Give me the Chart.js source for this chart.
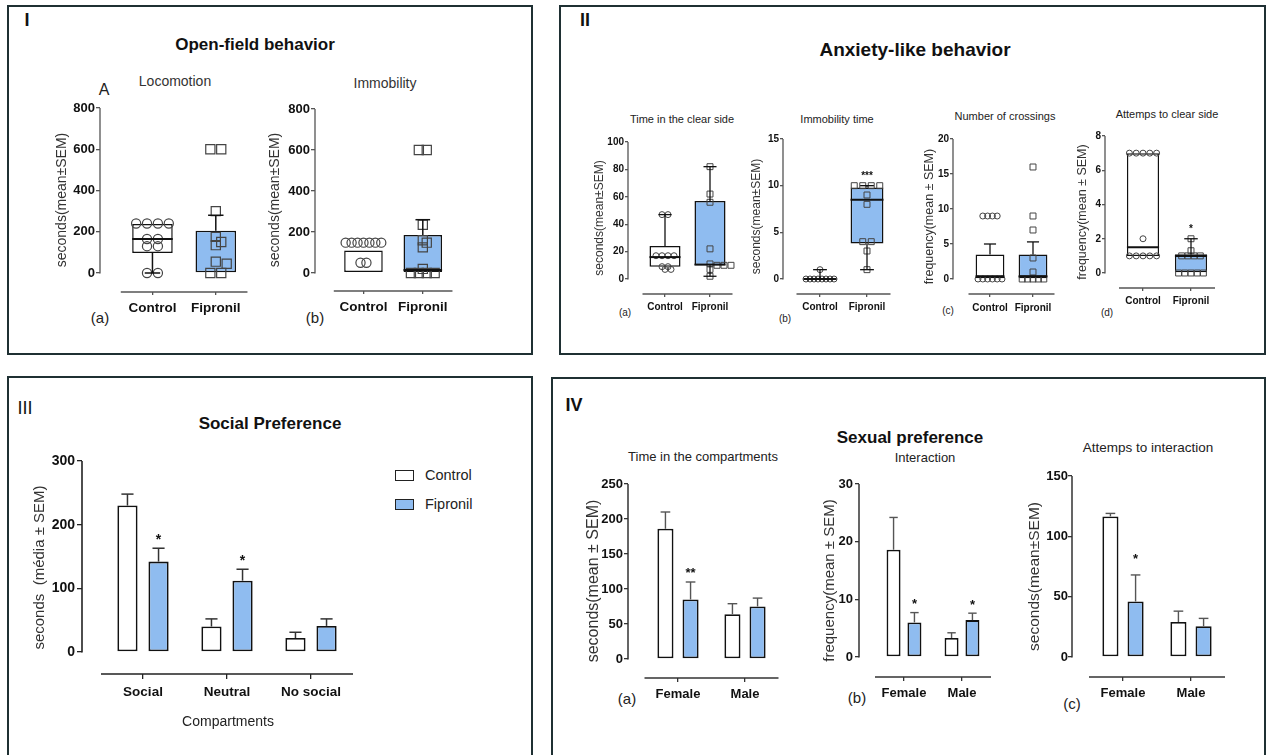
<!DOCTYPE html>
<html>
<head>
<meta charset="utf-8">
<script src="https://cdn.jsdelivr.net/npm/chart.js@4.4.1/dist/chart.umd.min.js"></script>
<style>
  body { margin: 0; background: #fff; font-family: "Liberation Sans", Arial, sans-serif; }
  #page { position: relative; width: 1271px; height: 755px; overflow: hidden; }
  .panel { position: absolute; border: 2px solid #1f3033; box-sizing: border-box; }
  .t { position: absolute; white-space: nowrap; transform: translate(-50%, -50%); line-height: 1; color: #111; }
  .sw { position: absolute; box-sizing: border-box; border: 1.6px solid #222; }
</style>
</head>
<body>
<div id="page"></div>
<script>
// ---------- data ----------
const groupNames = ['Control', 'Fipronil'];

// I. open-field: box = [lower whisker, q1, median, q3, upper whisker]
const locomotionTicks = [0, 200, 400, 600, 800];
const locomotionControl = [240, 240, 240, 240, 165, 165, 130, 130, 0, 0];
const locomotionFipronil = [600, 600, 300, 175, 150, 135, 55, 45, 0, 0];
const locomotionBox = [[0, 97, 165, 238, 238], [0, 0, null, 205, 280]];

const immobilityTicks = [0, 200, 400, 600, 800];
const immobilityControl = [148, 148, 148, 148, 148, 148, 148, 50, 50];
const immobilityFipronil = [600, 600, 235, 160, 148, 125, 20, 0, 0, 0, 0];
const immobilityBox = [[5, 5, null, 110, 110], [5, 5, 15, 185, 260]];

// II. anxiety-like
const clearSideTicks = [0, 20, 40, 60, 80, 100];
const clearSideControl = [47, 47, 17, 17, 17, 17, 9, 9, 7, 7];
const clearSideFipronil = [82, 62, 56, 22, 11, 10, 10, 10, 7, 2];
const clearSideBox = [[9, 9, 16, 24, 47], [2, 10, 10.5, 57, 82]];

const immobTimeTicks = [0, 5, 10, 15];
const immobTimeControl = [1, 0, 0, 0, 0, 0, 0, 0, 0];
const immobTimeFipronil = [10, 10, 10, 10, 9, 8, 4, 4, 3, 1];
const immobTimeBox = [[0, 0, 0, 0, 1], [1, 3.8, 8.5, 9.8, 10]];
const immobTimeStars = ['', '***'];

const crossingsTicks = [0, 5, 10, 15, 20];
const crossingsControl = [9, 9, 9, 9, 0, 0, 0, 0, 0, 0];
const crossingsFipronil = [16, 9, 7, 3, 1, 0, 0, 0, 0, 0];
const crossingsBox = [[0, 0, 0.4, 3.5, 5.0], [0, 0, 0.4, 3.5, 5.3]];

const clearAttemptsTicks = [0, 2, 4, 6, 8];
const clearAttemptsControl = [7, 7, 7, 7, 7, 2, 1, 1, 1, 1, 1];
const clearAttemptsFipronil = [2, 1.3, 1, 1, 1, 1, 0, 0, 0, 0, 0];
const clearAttemptsBox = [[1, 1, 1.5, 7, 7], [0, 0, 1.0, 1.1, 2.0]];
const clearAttemptsStars = ['', '*'];

// III. social preference (mean, SEM)
const socialCategories = ['Social', 'Neutral', 'No social'];
const socialTicks = [0, 100, 200, 300];
const socialControl = [230, 40, 22];
const socialControlSem = [18, 12, 9];
const socialFipronil = [142, 112, 41];
const socialFipronilSem = [21, 18, 11];
const socialStars = ['*', '*', ''];

// IV. sexual preference (mean, SEM)
const sexCategories = ['Female', 'Male'];
const compTicks = [0, 50, 100, 150, 200, 250];
const compControl = [186, 64];
const compControlSem = [24, 15];
const compFipronil = [85, 75];
const compFipronilSem = [25, 12];
const compStars = ['**', ''];

const interTicks = [0, 10, 20, 30];
const interControl = [18.6, 3.3];
const interControlSem = [5.6, 0.9];
const interFipronil = [6.0, 6.4];
const interFipronilSem = [1.7, 1.2];
const interStars = ['*', '*'];

const attemptsTicks = [0, 50, 100, 150];
const attemptsControl = [116.5, 29];
const attemptsControlSem = [2.5, 9];
const attemptsFipronil = [46, 25.5];
const attemptsFipronilSem = [22, 6.5];
const attemptsStars = ['*', ''];

// ---------- style / layout ----------
const FONT = "'Liberation Sans', Arial, sans-serif";
const BLUE = '#8fbcf0';
Chart.defaults.font.family = FONT;
Chart.defaults.color = '#111';

const page = document.getElementById('page');

function panel(l, t, w, h) {
  const d = document.createElement('div');
  d.className = 'panel';
  Object.assign(d.style, { left: l + 'px', top: t + 'px', width: w + 'px', height: h + 'px' });
  page.appendChild(d);
}
function text(s, x, y, font, color) {
  const d = document.createElement('div');
  d.className = 't';
  d.textContent = s;
  d.style.left = x + 'px';
  d.style.top = y + 'px';
  d.style.font = font + ' ' + FONT;
  if (color) d.style.color = color;
  page.appendChild(d);
}

// spread equal / close values sideways (pixel units)
function swarm(values, ppu, s, minD) {
  const placed = [], offs = new Array(values.length);
  [...new Set(values)].forEach(v => {
    const idx = values.map((u, i) => (u === v ? i : -1)).filter(i => i >= 0);
    const m = idx.length, py = v * ppu;
    const base = idx.map((_, k) => (k - (m - 1) / 2) * s);
    for (let j = 0; j < 30; j++) {
      const shift = j === 0 ? 0 : (j % 2 ? 1 : -1) * Math.ceil(j / 2) * s / 2;
      const ok = base.every(bx => placed.every(p => Math.hypot(p.x - bx - shift, p.y - py) >= minD));
      if (ok || j === 29) {
        base.forEach((bx, k) => { offs[idx[k]] = bx + shift; placed.push({ x: bx + shift, y: py }); });
        break;
      }
    }
  });
  return offs;
}

// axis lines, whiskers, medians, error bars and stars
const gpAxes = {
  id: 'gpAxes',
  afterDatasetsDraw(chart, args, o) {
    const { ctx, chartArea: a, scales: { x, y } } = chart;
    ctx.save();
    ctx.strokeStyle = o.axisColor;
    ctx.lineWidth = o.axisWidth;
    ctx.beginPath();
    ctx.moveTo(a.left, y.getPixelForValue(0) + 0.5);
    ctx.lineTo(a.left, y.getPixelForValue(y.max));
    ctx.moveTo(x.getPixelForValue(0.5), a.bottom);
    ctx.lineTo(x.getPixelForValue(o.n + 0.5), a.bottom);
    ctx.stroke();
    const hline = (cx, v, hw) => {
      const py = y.getPixelForValue(v);
      ctx.beginPath(); ctx.moveTo(cx - hw, py); ctx.lineTo(cx + hw, py); ctx.stroke();
    };
    const vline = (cx, v1, v2) => {
      ctx.beginPath(); ctx.moveTo(cx, y.getPixelForValue(v1)); ctx.lineTo(cx, y.getPixelForValue(v2)); ctx.stroke();
    };
    chart.data.datasets.forEach((ds, di) => {
      if (ds.type !== 'bar') return;
      chart.getDatasetMeta(di).data.forEach((el, i) => {
        const { x: cx, width: w } = el.getProps(['x', 'width'], true);
        let top = null;
        if (ds.box) {
          const [lo, q1, med, q3, hi] = ds.box[i];
          ctx.strokeStyle = '#111';
          ctx.lineWidth = o.markWidth;
          if (lo < q1) { vline(cx, q1, lo); hline(cx, lo, w * o.capRatio / 2); }
          if (hi > q3) { vline(cx, q3, hi); hline(cx, hi, w * o.capRatio / 2); }
          if (med !== null) { ctx.lineWidth = o.medianWidth; hline(cx, med, w / 2); }
          top = hi;
        }
        if (ds.sem) {
          const v = ds.data[i].y, e = v + ds.sem[i];
          ctx.strokeStyle = o.errColor;
          ctx.lineWidth = o.markWidth;
          vline(cx, v, e);
          hline(cx, e, w * o.capRatio / 2);
          top = e;
        }
        if (ds.stars && ds.stars[i]) {
          ctx.fillStyle = '#111';
          ctx.font = 'bold ' + o.starSize + 'px ' + FONT;
          ctx.textAlign = 'center';
          ctx.textBaseline = 'alphabetic';
          ctx.fillText(ds.stars[i], cx, y.getPixelForValue(top) - o.starGap + 0.57 * o.starSize);
        }
      });
    });
    ctx.restore();
  }
};

function makeChart(g, spec) {
  const n = spec.cats.length;
  const xmin = 1 - (g.c1 - g.l) / g.d;
  const plotW = Math.round((n + 0.75 - xmin) * g.d);
  const xmax = xmin + plotW / g.d;
  const padR = 6, padT = 14;
  const W = g.yW + plotW + padR;
  const H = padT + (g.b - g.t) + g.xH;
  const ymax = spec.ticks[spec.ticks.length - 1];
  const ppu = (g.z - g.t) / ymax;
  const ymin = -(g.b - g.z) / ppu;
  const c = document.createElement('canvas');
  c.width = W; c.height = H;
  c.style.cssText = `position:absolute;left:${g.l - g.yW}px;top:${g.t - padT}px;width:${W}px;height:${H}px`;
  page.appendChild(c);

  const datasets = spec.datasets(g, ppu);
  const yLH = spec.yTitleSize * 1.2, xLH = spec.xSize * 1.2;
  new Chart(c, {
    type: 'scatter',
    data: { datasets },
    plugins: [gpAxes],
    options: {
      responsive: false,
      animation: false,
      events: [],
      layout: { padding: { top: padT, right: padR, left: 0, bottom: 0 } },
      plugins: {
        legend: { display: false },
        tooltip: { enabled: false },
        gpAxes: {
          n, axisColor: spec.axisColor, axisWidth: spec.axisWidth || 1.3, markWidth: spec.markWidth || 1.5,
          medianWidth: 2, capRatio: spec.capRatio, errColor: spec.errColor || '#333',
          starSize: spec.starSize || 12, starGap: spec.starGap || 12
        }
      },
      scales: {
        x: {
          type: 'linear', min: xmin, max: xmax, offset: false, bounds: 'data',
          afterBuildTicks: s => { s.ticks = spec.cats.map((_, i) => ({ value: i + 1 })); },
          afterFit: s => { s.height = g.xH; s.paddingLeft = 0; s.paddingRight = 0; },
          border: { display: false },
          grid: { drawOnChartArea: false, tickLength: spec.xTick, color: spec.axisColor, offset: false, lineWidth: 1.3 },
          ticks: {
            autoSkip: false, maxRotation: 0, minRotation: 0, color: '#111',
            padding: g.xLabelY - g.b - spec.xTick - xLH / 2,
            font: { size: spec.xSize, weight: 'bold' },
            callback: (v, i) => spec.cats[i]
          },
          title: spec.xTitle
            ? { display: true, text: spec.xTitle, color: '#222', font: { size: 14 },
                padding: { top: 0, bottom: (g.b + g.xH) - spec.xTitleY - 14 * 1.2 / 2 } }
            : { display: false }
        },
        y: {
          type: 'linear', min: ymin, max: ymax, bounds: 'data',
          afterBuildTicks: s => { s.ticks = spec.ticks.map(v => ({ value: v })); },
          afterFit: s => { s.width = g.yW; s.paddingTop = 0; s.paddingBottom = 0; },
          border: { display: false },
          grid: { drawOnChartArea: false, tickLength: spec.yTick, color: spec.axisColor, lineWidth: 1.3 },
          ticks: { autoSkip: false, padding: spec.yPad, color: '#111', font: { size: spec.ySize, weight: 'bold' } },
          title: {
            display: true, text: spec.yTitle, color: '#333', font: { size: spec.yTitleSize },
            padding: { top: g.yTitleX - (g.l - g.yW) - yLH / 2, bottom: 0 }
          }
        }
      }
    }
  });
}

function boxSets(box, ctrl, fip, stars, st) {
  return (g, ppu) => {
    const cOff = swarm(ctrl, ppu, st.sc, st.sc * 0.55);
    const fOff = swarm(fip, ppu, st.sf, st.sf * 0.55);
    const pt = { borderColor: '#444', backgroundColor: 'rgba(0,0,0,0)', borderWidth: st.pw, order: 1 };
    return [
      { type: 'bar', data: box.map((b, i) => ({ x: i + 1, y: [b[1], b[3]] })), box, stars,
        backgroundColor: ['#ffffff', BLUE], borderColor: '#111', borderWidth: 1.5, borderSkipped: false,
        categoryPercentage: 1, barPercentage: g.boxW, order: 2 },
      Object.assign({ type: 'scatter', data: ctrl.map((v, i) => ({ x: 1 + cOff[i] / g.d, y: v })),
        pointStyle: 'circle', pointRadius: st.rc }, pt),
      Object.assign({ type: 'scatter', data: fip.map((v, i) => ({ x: 2 + fOff[i] / g.d, y: v })),
        pointStyle: 'rect', pointRadius: st.rf }, pt)
    ];
  };
}

function barSets(ctrl, ctrlSem, fip, fipSem, stars) {
  return g => {
    const common = { type: 'bar', borderColor: '#111', borderWidth: 1.8, borderSkipped: false,
      categoryPercentage: g.cat, barPercentage: g.bar, order: 1 };
    return [
      Object.assign({ label: groupNames[0], data: ctrl.map((v, i) => ({ x: i + 1, y: v })), sem: ctrlSem,
        backgroundColor: '#ffffff' }, common),
      Object.assign({ label: groupNames[1], data: fip.map((v, i) => ({ x: i + 1, y: v })), sem: fipSem, stars,
        backgroundColor: BLUE }, common)
    ];
  };
}

// ---------- panels & labels ----------
panel(7, 5, 526, 350);
panel(559, 5, 707, 350);
panel(7, 376, 526, 400);
panel(551, 377, 715, 400);

text('I', 27, 20, 'bold 18px');
text('Open-field behavior', 255, 45, 'bold 17px');
text('A', 104, 90, '16px', '#222');
text('Locomotion', 175, 81, '14px', '#333');
text('Immobility', 385, 83, '14px', '#333');
text('(a)', 100, 317, '15px', '#222');
text('(b)', 315, 317, '15px', '#222');

text('II', 585, 20, 'bold 18px');
text('Anxiety-like behavior', 915, 50, 'bold 19px');
text('Time in the clear side', 682, 119, '11px', '#222');
text('Immobility time', 837, 119, '11px', '#222');
text('Number of crossings', 1005, 116, '11px', '#222');
text('Attemps to clear side', 1167, 114, '11px', '#222');
text('(a)', 625, 312, '10px', '#222');
text('(b)', 785, 318, '10px', '#222');
text('(c)', 948, 310, '10px', '#222');
text('(d)', 1107, 312, '10px', '#222');

text('III', 25, 408, '18px');
text('Social Preference', 270, 424, 'bold 17px');

text('IV', 574, 405, 'bold 18px');
text('Sexual preference', 910, 438, 'bold 17px');
text('Time in the compartments', 703, 456, '13px', '#222');
text('Interaction', 925, 457, '13px', '#222');
text('Attemps to interaction', 1148, 447, '13.5px', '#222');
text('(a)', 627, 698, '15px', '#222');
text('(b)', 857, 697, '15px', '#222');
text('(c)', 1072, 703, '15px', '#222');

// legend for III
[['#ffffff', 470, 475], [BLUE, 499, 504]].forEach(([col, top, ty], i) => {
  const s = document.createElement('div');
  s.className = 'sw';
  Object.assign(s.style, { left: '395px', top: top + 'px', width: '19px', height: '11px', background: col });
  page.appendChild(s);
  const d = document.createElement('div');
  d.className = 't';
  d.textContent = groupNames[i];
  Object.assign(d.style, { left: '425px', top: ty + 'px', transform: 'translate(0,-50%)', font: '14.5px ' + FONT, color: '#222' });
  page.appendChild(d);
});

// ---------- charts ----------
const boxI = { axisColor: '#555', ySize: 13, xSize: 13.5, yTitleSize: 14, yTick: 4, yPad: 1, xTick: 3, capRatio: 0.38 };
const boxII = { axisColor: '#555', ySize: 10, xSize: 10, yTitleSize: 12, yTick: 3, yPad: 1, xTick: 3, capRatio: 0.42,
  markWidth: 1.3, starSize: 10, starGap: 12 };
const ptI = { rc: 4.6, rf: 6.5, pw: 1.2 };

makeChart({ l: 100, t: 108, z: 273, b: 292, c1: 153, d: 64, yW: 52, yTitleX: 62, xH: 32, xLabelY: 308, boxW: 0.64 },
  Object.assign({ cats: groupNames, ticks: locomotionTicks, yTitle: 'seconds(mean±SEM)',
    datasets: boxSets(locomotionBox, locomotionControl, locomotionFipronil, null, Object.assign({ sc: 11, sf: 11 }, ptI)) }, boxI));

makeChart({ l: 315, t: 109, z: 273, b: 291, c1: 364, d: 60, yW: 52, yTitleX: 275, xH: 32, xLabelY: 307, boxW: 0.65 },
  Object.assign({ cats: groupNames, ticks: immobilityTicks, yTitle: 'seconds(mean±SEM)',
    datasets: boxSets(immobilityBox, immobilityControl, immobilityFipronil, null, Object.assign({ sc: 6, sf: 8 }, ptI)) }, boxI));

const ptII = { rc: 3, rf: 4.2, pw: 1 };
makeChart({ l: 628, t: 142, z: 279, b: 294, c1: 665, d: 45, yW: 44, yTitleX: 600, xH: 26, xLabelY: 307, boxW: 0.69 },
  Object.assign({ cats: groupNames, ticks: clearSideTicks, yTitle: 'seconds(mean±SEM)',
    datasets: boxSets(clearSideBox, clearSideControl, clearSideFipronil, null, Object.assign({ sc: 6, sf: 7 }, ptII)) }, boxII));

makeChart({ l: 783, t: 139, z: 279, b: 294, c1: 820, d: 47, yW: 44, yTitleX: 757, xH: 26, xLabelY: 307, boxW: 0.7 },
  Object.assign({ cats: groupNames, ticks: immobTimeTicks, yTitle: 'seconds(mean±SEM)',
    datasets: boxSets(immobTimeBox, immobTimeControl, immobTimeFipronil, immobTimeStars, Object.assign({ sc: 4, sf: 8.5 }, ptII)) }, boxII));

makeChart({ l: 953, t: 139, z: 279, b: 294, c1: 990, d: 43, yW: 44, yTitleX: 930, xH: 26, xLabelY: 308, boxW: 0.67 },
  Object.assign({ cats: groupNames, ticks: crossingsTicks, yTitle: 'frequency(mean ± SEM)',
    datasets: boxSets(crossingsBox, crossingsControl, crossingsFipronil, null, Object.assign({ sc: 4.8, sf: 5.4 }, ptII)) },
    boxII, { yTitleSize: 12.5 }));

makeChart({ l: 1105, t: 136, z: 273, b: 288, c1: 1143, d: 48, yW: 40, yTitleX: 1083, xH: 26, xLabelY: 301, boxW: 0.67 },
  Object.assign({ cats: groupNames, ticks: clearAttemptsTicks, yTitle: 'frequency(mean ± SEM)',
    datasets: boxSets(clearAttemptsBox, clearAttemptsControl, clearAttemptsFipronil, clearAttemptsStars, Object.assign({ sc: 6.8, sf: 6.2 }, ptII)) },
    boxII, { yTitleSize: 12.5 }));

const barIII = { axisColor: '#222', axisWidth: 1.6, ySize: 14, xSize: 13.5, yTitleSize: 15, yTick: 5, yPad: 2, xTick: 5,
  capRatio: 0.6, starSize: 14, starGap: 12, markWidth: 1.5, errColor: '#333' };
makeChart({ l: 82, t: 461, z: 652, b: 674, c1: 143, d: 84, yW: 64, yTitleX: 40, xH: 62, xLabelY: 692, cat: 0.74, bar: 0.65 },
  Object.assign({ cats: socialCategories, ticks: socialTicks, yTitle: 'seconds  (média ± SEM)', xTitle: 'Compartments', xTitleY: 722,
    datasets: barSets(socialControl, socialControlSem, socialFipronil, socialFipronilSem, socialStars) }, barIII));

const barIV = { axisColor: '#333', axisWidth: 1.5, ySize: 13, xSize: 13, yTitleSize: 16, yTick: 4, yPad: 2, xTick: 4,
  capRatio: 0.6, starSize: 13, starGap: 12, markWidth: 1.4, errColor: '#555' };
makeChart({ l: 628, t: 484, z: 659, b: 678, c1: 678, d: 67, yW: 52, yTitleX: 594, xH: 30, xLabelY: 694, cat: 0.75, bar: 0.64 },
  Object.assign({ cats: sexCategories, ticks: compTicks, yTitle: 'seconds(mean ± SEM)',
    datasets: barSets(compControl, compControlSem, compFipronil, compFipronilSem, compStars) }, barIV, { yPad: 1 }));

makeChart({ l: 859, t: 484, z: 657, b: 677, c1: 904, d: 58, yW: 46, yTitleX: 830, xH: 30, xLabelY: 693, cat: 0.72, bar: 0.67 },
  Object.assign({ cats: sexCategories, ticks: interTicks, yTitle: 'frequency(mean ± SEM)',
    datasets: barSets(interControl, interControlSem, interFipronil, interFipronilSem, interStars) }, barIV, { yTitleSize: 15 }));

makeChart({ l: 1072, t: 476, z: 657, b: 677, c1: 1123, d: 68, yW: 50, yTitleX: 1035, xH: 30, xLabelY: 693, cat: 0.74, bar: 0.64 },
  Object.assign({ cats: sexCategories, ticks: attemptsTicks, yTitle: 'seconds(mean±SEM)',
    datasets: barSets(attemptsControl, attemptsControlSem, attemptsFipronil, attemptsFipronilSem, attemptsStars) },
    barIV, { starGap: 19, yPad: 0, yTitleSize: 15.5 }));
</script>
</body>
</html>
